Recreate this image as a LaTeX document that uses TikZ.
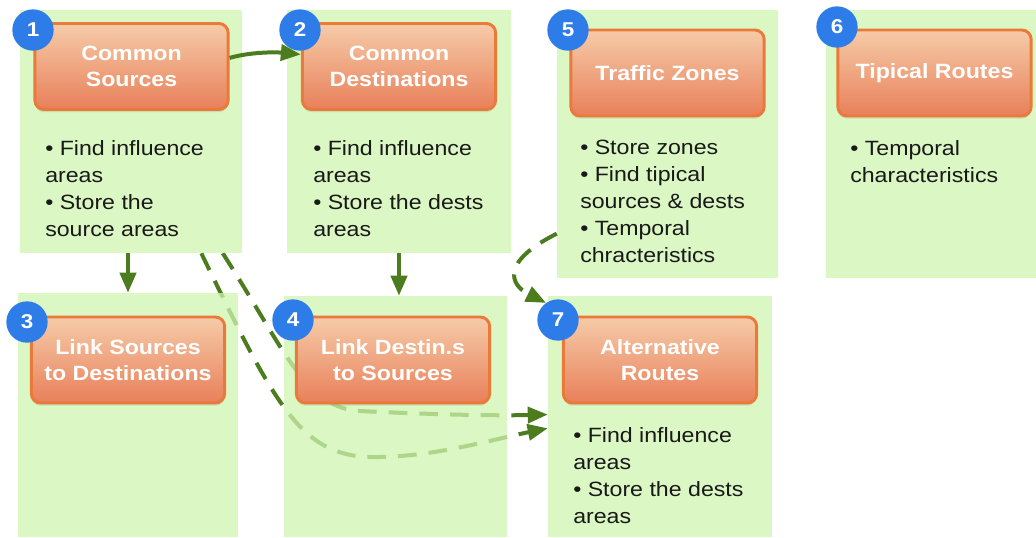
\documentclass[tikz,border=0pt]{standalone}
\usepackage{fontspec}
\setmainfont{Liberation Sans}[FakeStretch=1.12]
\usetikzlibrary{arrows.meta,fit,shadows,backgrounds}
\definecolor{panelgreen}{HTML}{CEF4B0}
\definecolor{linkgreen}{HTML}{4B7D1F}
\definecolor{boxtop}{HTML}{F6CBA8}
\definecolor{boxbottom}{HTML}{E8805A}
\definecolor{boxline}{HTML}{E97A3A}
\definecolor{badgeblue}{HTML}{2D7CE8}

\begin{document}
\begin{tikzpicture}[x=0.75pt,y=-0.75pt,
	panel/.style={fill=panelgreen,fill opacity=0.75,inner sep=0pt},
	task/.style={draw=boxline,line width=2.2pt,rounded corners=7pt,top color=boxtop,bottom color=boxbottom,
		minimum width=145pt,minimum height=64.5pt,inner sep=0pt,align=center,text=white,
		font=\fontsize{15.5}{19}\selectfont\bfseries,
		drop shadow={opacity=0.2,shadow xshift=0pt,shadow yshift=-2pt}},
	badge/.style={circle,fill=badgeblue,minimum size=31pt,inner sep=0pt,text=white,font=\fontsize{15}{15}\selectfont\bfseries},
	notes/.style={anchor=north west,inner sep=0pt,align=left,font=\fontsize{15.5}{20.25}\selectfont,text=black!90},
	link/.style={draw=linkgreen,line width=3pt,-{Triangle[length=15pt,width=12pt]}},
	dashlink/.style={link,dash pattern=on 14pt off 9pt}]
	\useasboundingbox (0,0) rectangle (1036,537);

	\node[panel,fit={(20,10) (242,253)}] (p1) {};
	\node[panel,fit={(287,10) (511,253)}] (p2) {};
	\node[panel,fit={(557,10) (778,278)}] (p5) {};
	\node[panel,fit={(826,10) (1036,278)}] (p6) {};
	\node[panel,fit={(18,293) (238,537)}] (p3) {};
	\node[panel,fit={(284,296) (507,537)}] (p4) {};
	\node[panel,fit={(548,296) (772,537)}] (p7) {};

	\begin{scope}[on background layer]
		\draw[dashlink] (p1.300) .. controls (275,405) and (300,455) .. (370,457)
			.. controls (430,458) and (490,440) .. (p7.186);
		\draw[dashlink] (p1.307) .. controls (285,350) and (305,408) .. (360,411)
			.. controls (420,414) and (490,416) .. (p7.179);
	\end{scope}

	\node[task] (b1) at (131.5,66.5) {Common\\Sources};
	\node[task] (b2) at (399,66.5) {Common\\Destinations};
	\node[task] (b5) at (667.5,73) {Traffic Zones};
	\node[task] (b6) at (934.5,73) {Tipical Routes};
	\node[task] (b3) at (128,360) {Link Sources\\to Destinations};
	\node[task] (b4) at (393,360) {Link Destin.s\\to Sources};
	\node[task] (b7) at (660,360) {Alternative\\Routes};

	\node[badge] (n1) at (33,30) {1};
	\node[badge] (n2) at (300,30) {2};
	\node[badge] (n5) at (568,30) {5};
	\node[badge] (n6) at (837,27) {6};
	\node[badge] (n3) at (27,322) {3};
	\node[badge] (n4) at (293,320) {4};
	\node[badge] (n7) at (558,320) {7};

	\node[notes] (t1) at (45,140) {• Find influence\\areas\\• Store the\\source areas};
	\node[notes] (t2) at (313,140) {• Find influence\\areas\\• Store the dests\\areas};
	\node[notes] (t5) at (580,140) {• Store zones\\• Find tipical\\sources \& dests\\• Temporal\\chracteristics};
	\node[notes] (t6) at (850,140) {• Temporal\\characteristics};
	\node[notes] (t7) at (573,427) {• Find influence\\areas\\• Store the dests\\areas};

	\draw[link] (b1.5) .. controls (250,52) and (275,52) .. (b2.173);
	\draw[link] (p3.north |- p1.south) -- (p3.north);
	\draw[link] (p2.south) -- (p2.south |- p4.north);
	\draw[dashlink] (p5.219) .. controls (500,262) and (510,285) .. (n7.125);
\end{tikzpicture}
\end{document}
